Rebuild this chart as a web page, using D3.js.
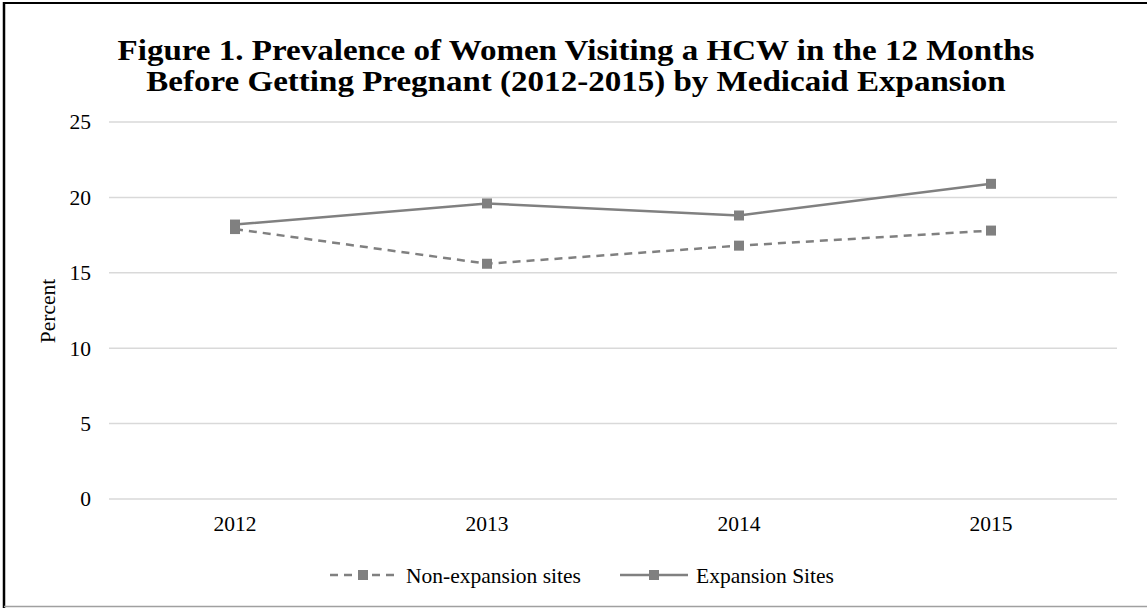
<!DOCTYPE html>
<html><head><meta charset="utf-8">
<script src="https://cdn.jsdelivr.net/npm/d3@7"></script>
<style>body{margin:0;background:#fff}svg{display:block}</style>
</head><body>
<script>
const categories = ["2012","2013","2014","2015"];
const nonExpansion = [17.9, 15.6, 16.8, 17.8];
const expansion = [18.2, 19.6, 18.8, 20.9];
const yTicks = [0,5,10,15,20,25];
const titleLines = ["Figure 1. Prevalence of Women Visiting a HCW in the 12 Months","Before Getting Pregnant (2012-2015) by Medicaid Expansion"];
const seriesNames = ["Non-expansion sites","Expansion Sites"];

const W=1147,H=608;
const svg=d3.select("body").append("svg").attr("width",W).attr("height",H);
const font="'Liberation Serif','Times New Roman',serif";
const grey="#808080";

// border
svg.append("line").attr("x1",4).attr("x2",W).attr("y1",3).attr("y2",3).attr("stroke","#000").attr("stroke-width",2);
svg.append("line").attr("x1",4).attr("x2",4).attr("y1",2).attr("y2",H).attr("stroke","#000").attr("stroke-width",2.5);
svg.append("line").attr("x1",4).attr("x2",W).attr("y1",606.5).attr("y2",606.5).attr("stroke","#a0a0a0").attr("stroke-width",1.5);

// title (slightly condensed vertically to keep the two lines apart)
svg.append("g").selectAll("text").data(titleLines).join("text")
  .attr("transform",(d,i)=>`translate(576,${60+i*31}) scale(1.12,1)`).attr("text-anchor","middle")
  .attr("font-family",font).attr("font-weight","bold").attr("font-size",29.5).attr("fill","#000").text(d=>d);

const x=d3.scaleBand().domain(categories).range([109,1117]);
const y=d3.scaleLinear().domain([0,25]).range([499,122]);

// gridlines
svg.append("g").selectAll("line").data(yTicks).join("line")
  .attr("x1",109).attr("x2",1117).attr("y1",d=>y(d)).attr("y2",d=>y(d))
  .attr("stroke","#d9d9d9").attr("stroke-width",1.5);

// y axis labels
const yAxis=svg.append("g").attr("transform","translate(91,0)")
  .call(d3.axisLeft(y).tickValues(yTicks).tickSize(0).tickPadding(0));
yAxis.select(".domain").remove();
yAxis.selectAll("text").attr("font-family",font).attr("font-size",21.5).attr("fill","#000").attr("text-anchor","end");

// x axis labels
const xAxis=svg.append("g").attr("transform","translate(0,516)")
  .call(d3.axisBottom(x).tickSize(0).tickPadding(0));
xAxis.select(".domain").remove();
xAxis.selectAll("text").attr("font-family",font).attr("font-size",21.5).attr("fill","#000").attr("dy","0.71em");

// y label
svg.append("text").attr("transform","translate(47,311) rotate(-90)").attr("text-anchor","middle").attr("dy","0.35em")
  .attr("font-family",font).attr("font-size",21.5).attr("fill","#000").text("Percent");

const cx=d=>x(d)+x.bandwidth()/2;
const line=d3.line().x(d=>cx(d.c)).y(d=>y(d.v));
const series=[
  {name:seriesNames[0],vals:nonExpansion,dash:"8,6"},
  {name:seriesNames[1],vals:expansion,dash:null}
];
series.forEach(s=>{
  const pts=categories.map((c,i)=>({c,v:s.vals[i]}));
  svg.append("path").datum(pts).attr("d",line).attr("fill","none").attr("stroke",grey)
    .attr("stroke-width",2.5).attr("stroke-dasharray",s.dash);
  svg.append("g").selectAll("rect").data(pts).join("rect")
    .attr("x",d=>cx(d.c)-5).attr("y",d=>y(d.v)-5).attr("width",10).attr("height",10).attr("fill",grey);
});

// legend
const leg=[{x0:330,x1:396,tx:406},{x0:620,x1:688,tx:696}];
series.forEach((s,i)=>{
  const L=leg[i], ly=575;
  svg.append("line").attr("x1",L.x0).attr("x2",L.x1).attr("y1",ly).attr("y2",ly)
    .attr("stroke",grey).attr("stroke-width",2.5).attr("stroke-dasharray",s.dash);
  svg.append("rect").attr("x",(L.x0+L.x1)/2-5).attr("y",ly-5).attr("width",10).attr("height",10).attr("fill",grey);
  svg.append("text").attr("x",L.tx).attr("y",ly).attr("dy","0.35em").attr("font-family",font)
    .attr("font-size",21.5).attr("fill","#000").text(s.name);
});
</script>
</body></html>
